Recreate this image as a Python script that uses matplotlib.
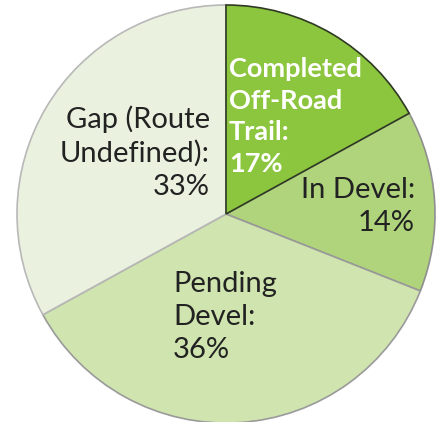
import matplotlib
matplotlib.use('Agg')
import matplotlib.pyplot as plt

# segment data, clockwise from 12 o'clock
labels = ['Completed\nOff-Road\nTrail:\n17%', 'In Devel:\n14%', 'Pending\nDevel:\n36%', 'Gap (Route\nUndefined):\n33%']
shares = [17, 14, 36, 33]
colors = ['#8cc63e', '#afd47b', '#cfe4ae', '#eaf2df']
edge_colors = ['#2f3a22', '#8f8f8f', '#9a9a9a', '#b8b8b8']

# label anchor (pixel) and alignment
label_px = [(229, 57), (415, 177), (173, 271), (210, 105)]
label_align = ['left', 'right', 'left', 'right']
label_color = ['white', '#222222', '#222222', '#222222']
label_weight = ['bold', 'normal', 'normal', 'normal']
label_size = [19.5, 21, 21, 21]

W, H = 438, 422
cx, cy, R = 226, 214, 209

fig = plt.figure(figsize=(W / 100, H / 100), dpi=100)
ax = fig.add_axes([0, 0, 1, 1])

wedges, _ = ax.pie(shares, colors=colors, startangle=90, counterclock=False,
                   radius=1.0, wedgeprops={'linewidth': 1.2})
for w, ec in zip(wedges, edge_colors):
    w.set_edgecolor(ec)
wedges[0].set_zorder(3)

ax.set_aspect('auto')
ax.set_xlim(-cx / R, (W - cx) / R)
ax.set_ylim(-(H - cy) / R, cy / R)
ax.axis('off')

def px2data(x, y):
    return (x - cx) / R, (cy - y) / R

for lab, (x, y), ha, c, fw, fs in zip(labels, label_px, label_align, label_color,
                                       label_weight, label_size):
    dx, dy = px2data(x, y)
    ls = 1.38 if fw == 'bold' else 1.33
    ax.text(dx, dy, lab, ha=ha, va='top', color=c, fontweight=fw,
            fontsize=fs, family='Lato', linespacing=ls, zorder=5,
            multialignment=ha)

fig.savefig('out.png', dpi=100)
